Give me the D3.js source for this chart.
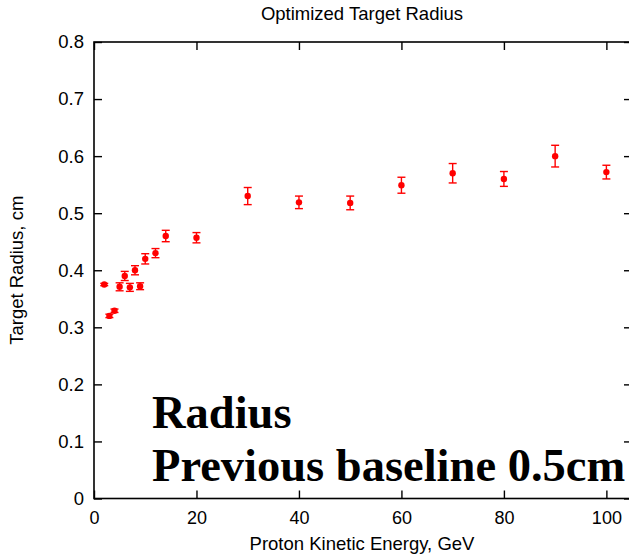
<!DOCTYPE html>
<html>
<head>
<meta charset="utf-8">
<script src="https://cdn.jsdelivr.net/npm/d3@7"></script>
<style>
  body { margin: 0; background: #fff; }
  svg { display: block; font-family: "Liberation Sans", Arial, sans-serif; }
</style>
</head>
<body>
<figure id="chart" style="margin:0"></figure>
<script>
// values
const energy = [2, 3, 4, 5, 6, 7, 8, 9, 10, 12, 14, 20, 30, 40, 50, 60, 70, 80, 90, 100];
const radius = [0.375, 0.320, 0.329, 0.371, 0.390, 0.370, 0.400, 0.372, 0.420, 0.430,
                0.460, 0.457, 0.530, 0.519, 0.518, 0.549, 0.570, 0.560, 0.600, 0.572];
const radiusErr = [0.002, 0.003, 0.003, 0.007, 0.008, 0.007, 0.008, 0.006, 0.009, 0.008,
                   0.010, 0.009, 0.015, 0.011, 0.012, 0.014, 0.017, 0.013, 0.019, 0.012];
const xTicks = [0, 20, 40, 60, 80, 100];
const yTicks = [0, 0.1, 0.2, 0.3, 0.4, 0.5, 0.6, 0.7, 0.8];
const title = "Optimized Target Radius";
const xTitle = "Proton Kinetic Energy, GeV";
const yTitle = "Target Radius, cm";
const notes = ["Radius", "Previous baseline 0.5cm"];

const W = 629, H = 556;
const mLeft = 94, mTop = 42, mRight = 632, mBottom = 498.5;
const tickLen = 8;

const svg = d3.select("#chart").append("svg")
  .attr("width", W).attr("height", H);

const x = d3.scaleLinear().domain([0, 105]).range([mLeft, mRight]);
const y = d3.scaleLinear().domain([0, 0.8]).range([mBottom, mTop]);

// frame with inward ticks on all four sides
svg.append("rect")
  .attr("x", mLeft).attr("y", mTop)
  .attr("width", mRight - mLeft).attr("height", mBottom - mTop)
  .attr("fill", "none").attr("stroke", "#000").attr("stroke-width", 1.6);

svg.append("g")
  .attr("transform", `translate(0,${mBottom})`)
  .call(d3.axisBottom(x).tickValues(xTicks).tickSizeInner(-tickLen).tickSizeOuter(0).tickPadding(13))
  .call(g => g.select(".domain").remove())
  .call(g => g.selectAll("line").attr("stroke-width", 1.4))
  .call(g => g.selectAll("text").attr("font-size", 18).attr("fill", "#000"));

svg.append("g")
  .attr("transform", `translate(0,${mTop})`)
  .call(d3.axisTop(x).tickValues(xTicks).tickSizeInner(-tickLen).tickSizeOuter(0).tickFormat(""))
  .call(g => g.select(".domain").remove())
  .call(g => g.selectAll("line").attr("stroke-width", 1.4));

svg.append("g")
  .attr("transform", `translate(${mLeft},0)`)
  .call(d3.axisLeft(y).tickValues(yTicks).tickSizeInner(-tickLen).tickSizeOuter(0).tickPadding(10)
    .tickFormat(d => d === 0 ? "0" : d3.format(".1f")(d)))
  .call(g => g.select(".domain").remove())
  .call(g => g.selectAll("line").attr("stroke-width", 1.4))
  .call(g => g.selectAll("text").attr("font-size", 18.5).attr("fill", "#000"));

svg.append("g")
  .attr("transform", `translate(${mRight},0)`)
  .call(d3.axisRight(y).tickValues(yTicks).tickSizeInner(-tickLen).tickSizeOuter(0).tickFormat(""))
  .call(g => g.select(".domain").remove())
  .call(g => g.selectAll("line").attr("stroke-width", 1.4));

// titles
svg.append("text")
  .attr("x", 362).attr("y", 20)
  .attr("text-anchor", "middle").attr("font-size", 18.5)
  .text(title);

svg.append("text")
  .attr("x", 362).attr("y", 550)
  .attr("text-anchor", "middle").attr("font-size", 18.5)
  .text(xTitle);

svg.append("text")
  .attr("transform", `translate(23,${(mTop + mBottom) / 2}) rotate(-90)`)
  .attr("text-anchor", "middle").attr("font-size", 18.5)
  .text(yTitle);

// error bars
const pts = energy.map((e, i) => ({ e, r: radius[i], err: radiusErr[i] }));
const bars = svg.append("g").attr("stroke", "#ff0000").attr("stroke-width", 1.4);
pts.forEach(d => {
  const cx = x(d.e), y1 = y(d.r + d.err), y0 = y(d.r - d.err);
  bars.append("line").attr("x1", cx).attr("x2", cx).attr("y1", y1).attr("y2", y0);
  bars.append("line").attr("x1", cx - 4).attr("x2", cx + 4).attr("y1", y1).attr("y2", y1);
  bars.append("line").attr("x1", cx - 4).attr("x2", cx + 4).attr("y1", y0).attr("y2", y0);
});

svg.append("g").selectAll("circle")
  .data(pts)
  .enter().append("circle")
  .attr("cx", d => x(d.e))
  .attr("cy", d => y(d.r))
  .attr("r", 3.2)
  .attr("fill", "#ff0000");

// annotation text
svg.append("g").selectAll("text")
  .data(notes)
  .enter().append("text")
  .attr("x", 152)
  .attr("y", (d, i) => 428 + i * 53)
  .attr("font-family", "'Liberation Serif', 'Times New Roman', serif")
  .attr("font-weight", "bold")
  .attr("font-size", 46.5)
  .text(d => d);
</script>
</body>
</html>
